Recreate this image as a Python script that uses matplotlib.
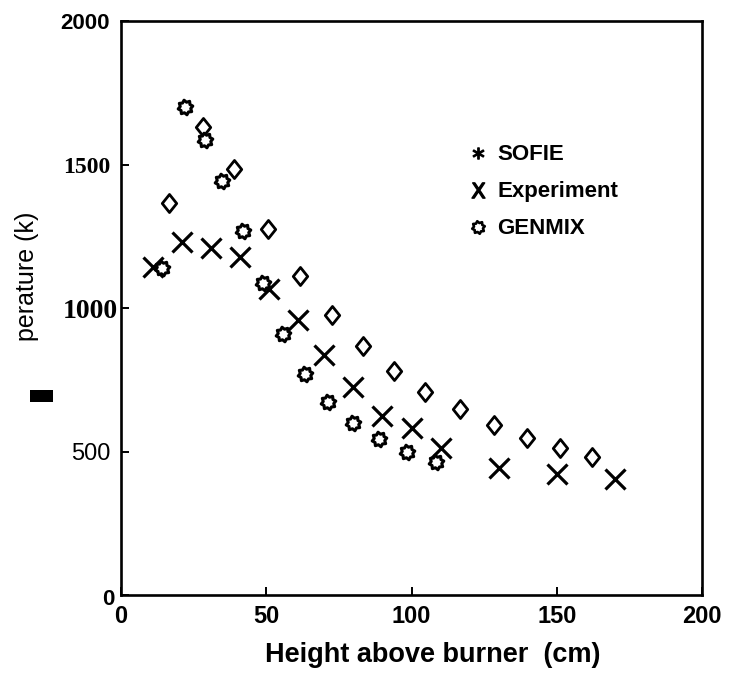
import matplotlib
matplotlib.use("Agg")
import matplotlib.pyplot as plt
import matplotlib.font_manager as fm
import matplotlib.transforms as mtrans
from matplotlib.path import Path
from matplotlib.lines import Line2D
from matplotlib.patches import Rectangle
import numpy as np

# ---- data ----
exp_x = [11, 21, 31, 41, 51, 61, 70, 80, 90, 100, 110, 130, 150, 170]
exp_t = [1143, 1230, 1209, 1178, 1066, 958, 836, 725, 624, 582, 512, 442, 422, 404]

sofie_x = [16.5, 28.2, 38.9, 50.6, 61.6, 72.6, 83.2, 94, 104.6, 116.7, 128.4, 139.8, 151.1, 162.1]
sofie_t = [1366, 1631, 1484, 1275, 1111, 976, 869, 780, 707, 648, 592, 547, 512, 481]

genmix_x = [14.1, 22, 28.9, 34.8, 42, 48.9, 55.8, 63.3, 71.3, 79.9, 88.8, 98.5, 108.4]
genmix_t = [1139, 1700, 1585, 1443, 1268, 1087, 909, 770, 672, 599, 544, 498, 463]

x_ticks = [0, 50, 100, 150, 200]
y_ticks = [0, 500, 1000, 1500, 2000]
legend_labels = ["SOFIE", "Experiment", "GENMIX"]

names = {f.name for f in fm.fontManager.ttflist}
narrow = "Liberation Sans Narrow" if "Liberation Sans Narrow" in names else "Liberation Sans"

# gear-like marker
n = 16
ang = np.linspace(0, 2 * np.pi, n, endpoint=False) + np.pi / 16
rad = np.where(np.arange(n) % 2 == 0, 1.0, 0.72)
verts = np.column_stack([rad * np.cos(ang), rad * np.sin(ang)])
verts = np.vstack([verts, verts[0]])
codes = [Path.MOVETO] + [Path.LINETO] * (n - 1) + [Path.CLOSEPOLY]
gear = Path(verts, codes)

# wide diamond marker
dverts = [(0, 1), (0.8, 0), (0, -1), (-0.8, 0), (0, 1)]
diamond = Path(dverts, [Path.MOVETO, Path.LINETO, Path.LINETO, Path.LINETO, Path.CLOSEPOLY])

fig = plt.figure(figsize=(7.31, 6.75), dpi=100)
ax = fig.add_axes([121 / 731, 1 - 595 / 675, 581 / 731, 574 / 675])

ax.plot(sofie_x, sofie_t, linestyle="none", marker=diamond, markersize=13,
        markerfacecolor="white", markeredgecolor="black", markeredgewidth=2.0)
ax.plot(exp_x, exp_t, linestyle="none", marker="x", markersize=14,
        markeredgecolor="black", markeredgewidth=2.3)
ax.plot(genmix_x, genmix_t, linestyle="none", marker=gear, markersize=10.5,
        markerfacecolor="white", markeredgecolor="black", markeredgewidth=2.2)

ax.set_xlim(0, 200)
ax.set_ylim(0, 2000)
for s in ax.spines.values():
    s.set_linewidth(1.9)

ax.set_xticks(x_ticks)
ax.set_yticks(y_ticks)
ax.tick_params(direction="in", length=6, width=1.4)
ax.tick_params(axis="x", pad=7)
ax.tick_params(axis="y", pad=8)
ax.set_xticklabels([str(v) for v in x_ticks],
                   fontproperties=fm.FontProperties(family=narrow, weight="bold", size=17))
ylabs = ax.set_yticklabels([str(v) for v in y_ticks])
ystyles = [
    dict(family="Liberation Sans", weight="bold", size=16, dx=5, dy=-2),
    dict(family="Liberation Sans", weight="normal", size=17, dx=1, dy=0),
    dict(family="Liberation Serif", weight="bold", size=20, dx=8, dy=0),
    dict(family="Liberation Serif", weight="bold", size=17, dx=0, dy=0),
    dict(family="Liberation Sans", weight="bold", size=16, dx=0, dy=0),
]
for lab, st in zip(ylabs, ystyles):
    lab.set_fontproperties(fm.FontProperties(family=st["family"], weight=st["weight"],
                                             size=st["size"]))
    off = mtrans.ScaledTranslation(st["dx"] / 100, st["dy"] / 100, fig.dpi_scale_trans)
    lab.set_transform(lab.get_transform() + off)

ax.set_xlabel("Height above burner  (cm)", family=narrow, fontweight="bold", fontsize=19.5)
ax.xaxis.set_label_coords(0.536, -0.104)
ax.xaxis.label.set_va("center")

fig.text(27 / 731, 1 - 276 / 675, "perature (k)", rotation=90, ha="center", va="center",
         family="Liberation Sans", fontsize=18)
fig.patches.append(Rectangle((30 / 731, 1 - 402 / 675), 23 / 731, 12 / 675,
                             transform=fig.transFigure, facecolor="black", edgecolor="none"))

handles = [
    Line2D([], [], linestyle="none", marker="$*$", markersize=8, color="black"),
    Line2D([], [], linestyle="none", marker=r"$\mathsf{X}$", markersize=11, color="black"),
    Line2D([], [], linestyle="none", marker=gear, markersize=9, markerfacecolor="white",
           markeredgecolor="black", markeredgewidth=1.9),
]
leg = ax.legend(handles, legend_labels, loc="upper left", bbox_to_anchor=(0.565, 0.82),
                frameon=False, handlelength=0.8, handletextpad=0.45, labelspacing=0.72,
                prop=dict(family=narrow, weight="bold", size=16))

fig.savefig("out.png", dpi=100)
